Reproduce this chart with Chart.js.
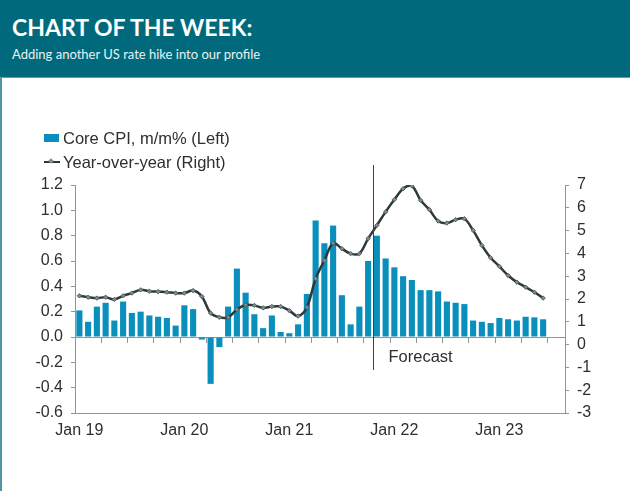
<!DOCTYPE html>
<html>
<head>
<meta charset="utf-8">
<script src="https://cdn.jsdelivr.net/npm/chart.js@4.4.1/dist/chart.umd.min.js"></script>
<style>
  html, body { margin: 0; padding: 0; background: #fff; }
  body { width: 630px; height: 491px; position: relative; overflow: hidden; font-family: 'Liberation Sans', Arial, sans-serif; }
  .header { position: absolute; left: 0; top: 0; width: 630px; height: 77px; background: #006a7c; border-bottom: 1px solid #5d9ea9; z-index: 2; }
  .header h1 { position: absolute; left: 12px; top: 13px; margin: 0; font: bold 23px Lato, sans-serif; color: #fff; letter-spacing: 0; }
  .header p { position: absolute; left: 12px; top: 46px; margin: 0; font: 13px Lato, sans-serif; color: #e8f1f3; }
  .edge { position: absolute; left: 0; top: 78px; bottom: 0; width: 2px; background: #4d97a3; z-index: 2; }
  #wrap { position: absolute; left: 0; top: 0; width: 630px; height: 491px; }
  .legend { position: absolute; left: 44px; top: 126px; font: 16.5px 'Liberation Sans', Arial, sans-serif; color: #2e2e2e; z-index: 2; }
  .legend .row { height: 24px; display: flex; align-items: center; }
  .legend .mk { width: 15px; margin-right: 4px; position: relative; height: 10px; }
  .legend .box { position: absolute; left: 0; top: 1px; width: 15px; height: 8px; }
  .legend .ln { position: absolute; left: 0; top: 4px; width: 16px; height: 2px; }
  .legend .dot { position: absolute; left: 5px; top: 2px; width: 4px; height: 4px; transform: rotate(45deg); }
</style>
</head>
<body>
<div class="header">
  <h1>CHART OF THE WEEK:</h1>
  <p>Adding another US rate hike into our profile</p>
</div>
<div class="edge"></div>
<div class="legend" id="legend"></div>
<div id="wrap"><canvas id="chart"></canvas></div>
<script>
// --- Data ---
const months = [
    'Jan 19', 'Feb 19', 'Mar 19', 'Apr 19', 'May 19', 'Jun 19', 'Jul 19', 'Aug 19', 'Sep 19', 'Oct 19', 'Nov 19', 'Dec 19',
    'Jan 20', 'Feb 20', 'Mar 20', 'Apr 20', 'May 20', 'Jun 20', 'Jul 20', 'Aug 20', 'Sep 20', 'Oct 20', 'Nov 20', 'Dec 20',
    'Jan 21', 'Feb 21', 'Mar 21', 'Apr 21', 'May 21', 'Jun 21', 'Jul 21', 'Aug 21', 'Sep 21', 'Oct 21', 'Nov 21', 'Dec 21',
    'Jan 22', 'Feb 22', 'Mar 22', 'Apr 22', 'May 22', 'Jun 22', 'Jul 22', 'Aug 22', 'Sep 22', 'Oct 22', 'Nov 22', 'Dec 22',
    'Jan 23', 'Feb 23', 'Mar 23', 'Apr 23', 'May 23', 'Jun 23', 'Jul 23', 'Aug 23'
];

// Core CPI, m/m % (left axis)
const coreMoM = [
    0.21, 0.12, 0.24, 0.27, 0.13, 0.28, 0.19, 0.20, 0.17, 0.16, 0.15, 0.09,
    0.25, 0.22, -0.02, -0.37, -0.08, 0.24, 0.54, 0.35, 0.18, 0.07, 0.17, 0.04,
    0.03, 0.10, 0.34, 0.92, 0.74, 0.88, 0.33, 0.10, 0.24, 0.60, 0.80, 0.62,
    0.55, 0.48, 0.45, 0.37, 0.37, 0.36, 0.28, 0.27, 0.26, 0.13, 0.12, 0.11,
    0.15, 0.14, 0.13, 0.16, 0.155, 0.14, null, null
];

// Year-over-year % (right axis)
const coreYoY = [
    2.14, 2.08, 2.04, 2.08, 1.98, 2.14, 2.26, 2.40, 2.34, 2.32, 2.30, 2.26,
    2.26, 2.37, 2.11, 1.38, 1.20, 1.20, 1.54, 1.74, 1.72, 1.61, 1.67, 1.67,
    1.49, 1.25, 1.64, 2.89, 3.69, 4.45, 4.21, 3.99, 3.99, 4.65, 5.23, 5.82,
    6.36, 6.84, 6.96, 6.33, 5.92, 5.42, 5.33, 5.48, 5.52, 5.01, 4.35, 3.81,
    3.43, 3.03, 2.74, 2.52, 2.30, 2.04, null, null
];

const seriesNames = ['Core CPI, m/m% (Left)', 'Year-over-year (Right)'];
const forecastStart = 'Nov 21';
const forecastLabel = 'Forecast';

// --- Styles ---
const barColor = '#0a8fbc';
const lineColor = '#2c3a3d';
const markerColor = '#848c8f';
const axisColor = '#8d969c';
const textColor = '#2e2e2e';
const tickFont = { family: "'Liberation Sans', Arial, sans-serif", size: 16 };

// --- HTML legend ---
const legend = document.getElementById('legend');
legend.innerHTML = `
    <div class="row"><span class="mk"><span class="box" style="background:${barColor}"></span></span>${seriesNames[0]}</div>
    <div class="row"><span class="mk"><span class="ln" style="background:${lineColor}"></span><span class="dot" style="background:${markerColor}"></span></span>${seriesNames[1]}</div>
`;

// Forecast divider + label
const forecastPlugin = {
    id: 'forecast',
    afterDatasetsDraw(chart) {
        const { ctx, chartArea } = chart;
        const x = chart.scales.x;
        const y = chart.scales.y;
        const i = months.indexOf(forecastStart);
        const px = Math.round((x.getPixelForValue(i - 1) + x.getPixelForValue(i)) / 2) + 0.5;
        const zero = y.getPixelForValue(0);
        ctx.save();
        ctx.strokeStyle = '#3c4246';
        ctx.lineWidth = 1;
        ctx.beginPath();
        ctx.moveTo(px, chartArea.top - 20);
        ctx.lineTo(px, zero + 33);
        ctx.stroke();
        ctx.fillStyle = textColor;
        ctx.font = "16.5px 'Liberation Sans', Arial, sans-serif";
        ctx.textBaseline = 'middle';
        ctx.fillText(forecastLabel, px + 15, zero + 20);
        ctx.restore();
    }
};

new Chart(document.getElementById('chart'), {
    data: {
        labels: months,
        datasets: [
            {
                type: 'line',
                label: seriesNames[1],
                data: coreYoY,
                yAxisID: 'y1',
                xAxisID: 'x',
                order: 0,
                borderColor: lineColor,
                borderWidth: 2.5,
                tension: 0.35,
                pointStyle: 'rectRot',
                pointRadius: 2.2,
                pointBackgroundColor: markerColor,
                pointBorderColor: '#55605f',
                pointBorderWidth: 1
            },
            {
                type: 'bar',
                label: seriesNames[0],
                data: coreMoM,
                yAxisID: 'y',
                xAxisID: 'x',
                order: 1,
                backgroundColor: barColor,
                categoryPercentage: 1,
                barPercentage: 0.7
            }
        ]
    },
    options: {
        responsive: true,
        maintainAspectRatio: false,
        animation: false,
        layout: { padding: { top: 185, left: 0, right: 0, bottom: 0 } },
        plugins: {
            legend: { display: false },
            tooltip: { enabled: false }
        },
        scales: {
            x: {
                type: 'category',
                offset: true,
                grid: { display: false, offset: true, drawTicks: false },
                border: { display: true, color: axisColor, width: 1 },
                ticks: {
                    autoSkip: false,
                    maxRotation: 0,
                    padding: 8,
                    color: textColor,
                    font: tickFont,
                    callback: (v, i) => months[i].startsWith('Jan') ? months[i] : ''
                },
                afterFit: s => { s.height = 78; }
            },
            x0: {
                type: 'category',
                position: { y: 0 },
                offset: true,
                grid: {
                    offset: true,
                    drawOnChartArea: false,
                    drawTicks: true,
                    tickLength: 5,
                    color: c => (c.index !== undefined && c.index % 3 === 0) ? axisColor : 'rgba(0,0,0,0)'
                },
                border: { display: true, color: axisColor, width: 1 },
                ticks: { display: false }
            },
            y: {
                position: 'left',
                min: -0.6,
                max: 1.2,
                grid: { drawOnChartArea: false, tickLength: 4, color: axisColor },
                border: { color: axisColor },
                ticks: {
                    stepSize: 0.2,
                    padding: 8,
                    color: textColor,
                    font: tickFont,
                    callback: v => v.toFixed(1)
                },
                afterFit: s => { s.width = 75; }
            },
            y1: {
                position: 'right',
                min: -3,
                max: 7,
                grid: { drawOnChartArea: false, tickLength: 4, color: axisColor },
                border: { color: axisColor },
                ticks: {
                    stepSize: 1,
                    padding: 8,
                    color: textColor,
                    font: tickFont
                },
                afterFit: s => { s.width = 65; }
            }
        }
    },
    plugins: [forecastPlugin]
});
</script>
</body>
</html>
